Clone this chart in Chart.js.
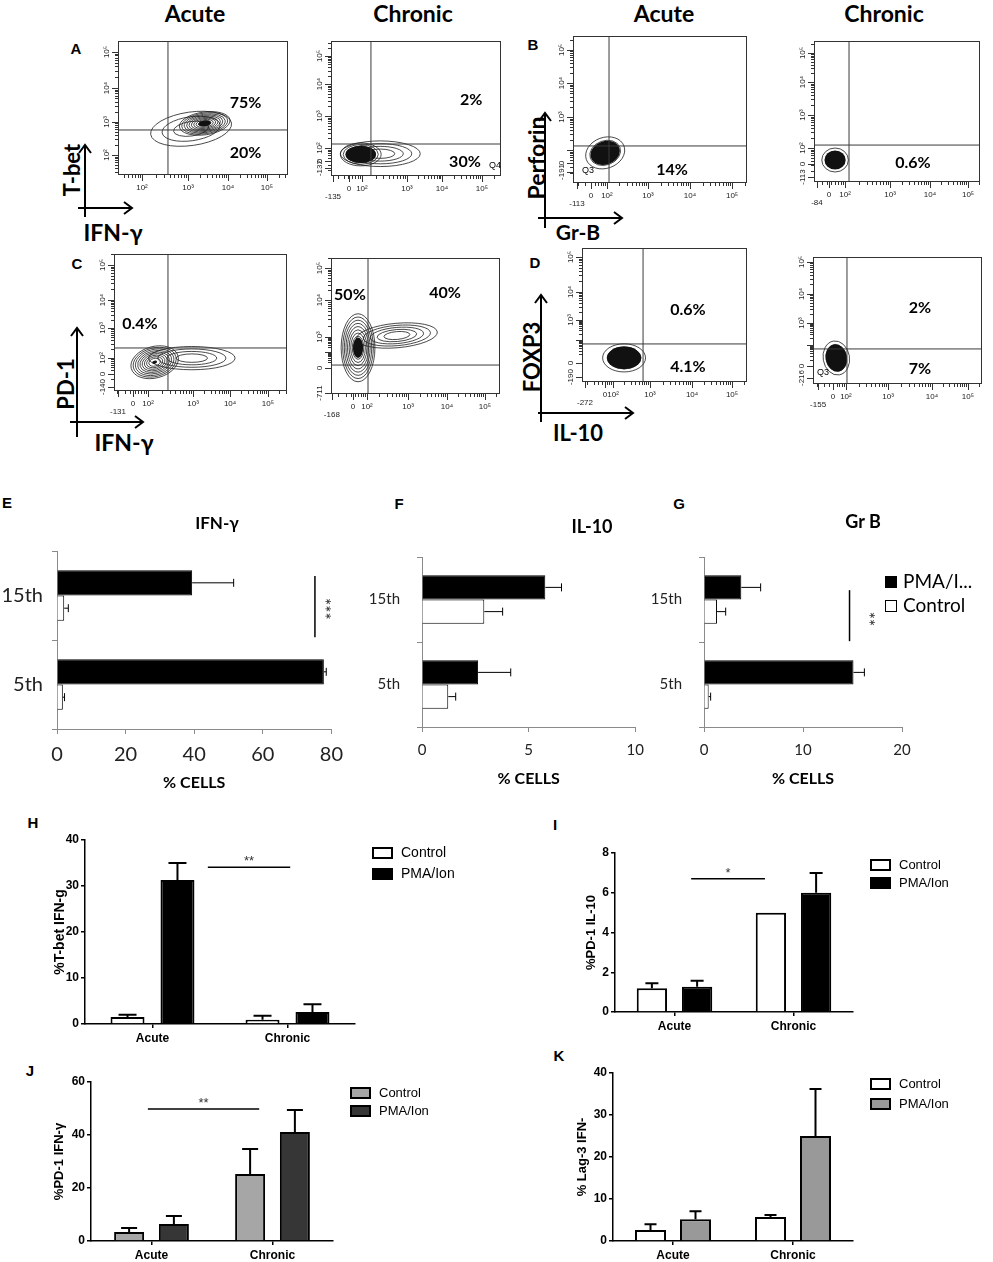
<!DOCTYPE html>
<html>
<head>
<meta charset="utf-8">
<script src="https://cdn.jsdelivr.net/npm/chart.js@4.4.1/dist/chart.umd.min.js"></script>
<style>
  body { margin: 0; width: 993px; height: 1262px; position: relative; overflow: hidden; background: #fff; }
  .t { position: absolute; white-space: nowrap; transform: translate(-50%, -50%); color: #000; line-height: 1; }
  .r { transform: translate(-50%, -50%) rotate(-90deg); }
  .hd { font: bold 23px Lato, sans-serif; }
  .lt { font: bold 15px "Liberation Sans", Arial, sans-serif; }
  .ar { font-family: Lato, sans-serif; font-weight: bold; }
</style>
</head>
<body>
<svg width="993" height="1262" style="position:absolute;left:0;top:0" fill="none" stroke="#000" stroke-width="2">
  <path d="M85 217V145M79 153L85 145L91 153M78 208H132M124 202L132 208L124 214"/>
  <path d="M545 228V113M539 121L545 113L551 121M538 218H622M614 212L622 218L614 224"/>
  <path d="M77 437V328M71 336L77 328L83 336M70 422H143M135 416L143 422L135 428"/>
  <path d="M541 422V295M535 303L541 295L547 303M538 413H633M625 407L633 413L625 419"/>
</svg>
<script>
// ---------- flow panels, values in display channels (0-1000) ----------
const aAcuteXTicks = [141, 412, 647, 876];
const aAcuteXLabels = ['10²', '10³', '10⁴', '10⁵'];
const aAcuteYTicks = [149, 396, 649, 918];
const aAcuteYLabels = ['10²', '10³', '10⁴', '10⁵'];
const aAcuteGate = [294, 336];
const aAcuteContours = [[430, 345, 240, 125, 3, 0, 8], [510, 385, 150, 85, 9, 0.25, 8]];
const aAcutePcts = [['75%', 750, 537], ['20%', 750, 164]];

const aChronicXTicks = [12, 106, 182, 447, 653, 888];
const aChronicXLabels = ['-135', '0', '10²', '10³', '10⁴', '10⁵'];
const aChronicYTicks = [59, 111, 207, 444, 681, 889];
const aChronicYLabels = ['-132', '0', '10²', '10³', '10⁴', '10⁵'];
const aChronicGate = [235, 237];
const aChronicContours = [[290, 165, 235, 95, 4, 0, 0], [175, 160, 120, 85, 6, 0.75, 0]];
const aChronicPcts = [['2%', 824, 563], ['30%', 788, 104], ['Q4', 965, 81]];

const bAcuteXTicks = [23, 103, 195, 431, 672, 914];
const bAcuteXLabels = ['-113', '0', '10²', '10³', '10⁴', '10⁵'];
const bAcuteYTicks = [75, 136, 224, 449, 680, 905];
const bAcuteYLabels = ['-191', '0', '', '10³', '10⁴', '10⁵'];
const bAcuteGate = [207, 252];
const bAcuteContours = [[185, 205, 115, 105, 4, 0.75, 20]];
const bAcutePcts = [['14%', 569, 88], ['Q3', 86, 88]];

const bChronicXTicks = [18, 90, 187, 458, 699, 928];
const bChronicXLabels = ['-84', '0', '10²', '10³', '10⁴', '10⁵'];
const bChronicYTicks = [35, 128, 241, 475, 709, 915];
const bChronicYLabels = ['-113', '0', '10²', '10³', '10⁴', '10⁵'];
const bChronicGate = [211, 262];
const bChronicContours = [[127, 156, 80, 85, 3, 0.8, 0]];
const bChronicPcts = [['0.6%', 596, 135]];

const cAcuteXTicks = [23, 110, 197, 457, 671, 890];
const cAcuteXLabels = ['-131', '0', '10²', '10³', '10⁴', '10⁵'];
const cAcuteYTicks = [29, 124, 241, 460, 664, 920];
const cAcuteYLabels = ['-140', '0', '10²', '10³', '10⁴', '10⁵'];
const cAcuteGate = [312, 314];
const cAcuteContours = [[450, 240, 250, 85, 4, 0, 0], [235, 210, 140, 115, 9, 0.1, 15]];
const cAcutePcts = [['0.4%', 150, 489]];

const cChronicXTicks = [5, 130, 213, 456, 686, 911];
const cChronicXLabels = ['-168', '0', '10²', '10³', '10⁴', '10⁵'];
const cChronicYTicks = [7, 191, 309, 419, 691, 926];
const cChronicYLabels = ['-711', '0', '', '10³', '10⁴', '10⁵'];
const cChronicGate = [219, 213];
const cChronicContours = [[390, 430, 240, 90, 5, 0, 5], [160, 340, 100, 250, 9, 0.3, 0]];
const cChronicPcts = [['50%', 112, 728], ['40%', 675, 743]];

const dAcuteXTicks = [18, 139, 188, 412, 667, 909];
const dAcuteXLabels = ['-272', '0', '10²', '10³', '10⁴', '10⁵'];
const dAcuteYTicks = [37, 142, 313, 463, 672, 933];
const dAcuteYLabels = ['-190', '0', '', '10³', '10⁴', '10⁵'];
const dAcuteGate = [370, 284];
const dAcuteContours = [[255, 180, 130, 105, 4, 0.8, 0]];
const dAcutePcts = [['0.6%', 642, 537], ['4.1%', 642, 112]];

const dChronicXTicks = [30, 118, 195, 444, 704, 917];
const dChronicXLabels = ['-155', '0', '10²', '10³', '10⁴', '10⁵'];
const dChronicYTicks = [47, 142, 310, 480, 709, 961];
const dChronicYLabels = ['-216', '0', '', '10³', '10⁴', '10⁵'];
const dChronicGate = [201, 276];
const dChronicContours = [[138, 205, 78, 135, 4, 0.8, 10]];
const dChronicPcts = [['2%', 633, 598], ['7%', 633, 118], ['Q3', 59, 94]];

// ---------- E-G horizontal bars ----------
const dayLabels = ['15th', '5th'];
const ifnPma = [39.4, 77.8];
const ifnPmaErr = [12.1, 0.7];
const ifnCtl = [2.1, 1.7];
const ifnCtlErr = [1.2, 0.5];
const il10Pma = [5.78, 2.63];
const il10PmaErr = [0.76, 1.53];
const il10Ctl = [2.92, 1.23];
const il10CtlErr = [0.86, 0.35];
const grbPma = [3.77, 15.1];
const grbPmaErr = [1.95, 1.1];
const grbCtl = [1.31, 0.47];
const grbCtlErr = [0.88, 0.2];
const ifnSig = [75.2, -0.22, 0.47, '***', 77.7, 0.15];
const grbSig = [14.7, -0.11, 0.49, '**', 16.5, 0.23];

// ---------- H-K vertical bars ----------
const stageLabels = ['Acute', 'Chronic'];
const tbetCtl = [1.5, 0.9];
const tbetCtlErr = [0.5, 0.9];
const tbetPma = [31.3, 2.6];
const tbetPmaErr = [3.7, 1.7];
const pd1Il10Ctl = [1.2, 5.0];
const pd1Il10CtlErr = [0.25, 0];
const pd1Il10Pma = [1.27, 6.0];
const pd1Il10PmaErr = [0.3, 1.0];
const pd1IfnCtl = [3.4, 25.3];
const pd1IfnCtlErr = [1.5, 9.4];
const pd1IfnPma = [6.4, 41.1];
const pd1IfnPmaErr = [3.0, 8.3];
const lag3Ctl = [2.6, 5.7];
const lag3CtlErr = [1.4, 0.5];
const lag3Pma = [5.2, 25.0];
const lag3PmaErr = [1.9, 11.2];
const tbetSig = [0.41, 1.02, 34.1, '**'];
const pd1Il10Sig = [0.14, 0.76, 6.7, '*'];
const pd1IfnSig = [-0.03, 0.89, 49.8, '**'];

function addCanvas(left, top, w, h) {
    const c = document.createElement('canvas');
    c.width = w;
    c.height = h;
    c.style.cssText = `position:absolute;left:${left}px;top:${top}px;width:${w}px;height:${h}px`;
    document.body.appendChild(c);
    return c;
}

function txt(text, x, y, cls, style) {
    const d = document.createElement('div');
    d.className = 't ' + cls;
    d.textContent = text;
    d.style.left = x + 'px';
    d.style.top = y + 'px';
    if (style) d.style.cssText += style;
    document.body.appendChild(d);
}

// minor log ticks between decade ticks (axis decoration only)
function minorTicks(vals, labels) {
    const dec = vals.filter((v, i) => labels[i] !== '0' && !labels[i].startsWith('-'));
    const out = [];
    for (let i = 0; i <= dec.length; i++) {
        const lo = i === 0 ? dec[0] - (dec[1] - dec[0]) : dec[i - 1];
        const hi = i === dec.length ? dec[i - 1] + (dec[i - 1] - dec[i - 2]) : dec[i];
        for (let m = 2; m <= 9; m++) {
            const p = lo + (hi - lo) * Math.log10(m);
            if (p > 2 && p < 998) out.push(p);
        }
    }
    return out;
}

function makeFlowPlugin(f) {
    return {
        id: 'flow',
        beforeDatasetsDraw(chart) {
            const { ctx, chartArea: a, scales: { x, y } } = chart;
            ctx.save();
            ctx.beginPath();
            ctx.rect(a.left, a.top, a.width, a.height);
            ctx.clip();
            ctx.strokeStyle = '#1c1c1c';
            ctx.lineWidth = 0.8;
            f.contours.forEach(([cx, cy, rx, ry, rings, core, ang]) => {
                const px = x.getPixelForValue(cx), py = y.getPixelForValue(cy);
                const prx = x.getPixelForValue(cx + rx) - px;
                const pry = py - y.getPixelForValue(cy + ry);
                const rot = -ang * Math.PI / 180;
                for (let i = 0; i < rings; i++) {
                    const k = 1 - i * 0.85 / rings;
                    ctx.beginPath();
                    ctx.ellipse(px, py, prx * k, pry * k, rot, 0, Math.PI * 2);
                    ctx.stroke();
                }
                if (core > 0) {
                    ctx.beginPath();
                    ctx.ellipse(px, py, prx * core, pry * core, rot, 0, Math.PI * 2);
                    ctx.fillStyle = '#111';
                    ctx.fill();
                }
            });
            ctx.restore();
        },
        afterDraw(chart) {
            const { ctx, chartArea: a, scales: { x, y } } = chart;
            ctx.save();
            ctx.strokeStyle = '#333';
            ctx.lineWidth = 1;
            ctx.strokeRect(a.left + 0.5, a.top + 0.5, a.width - 1, a.height - 1);
            ctx.beginPath();
            f.xTicks.forEach(v => {
                const p = Math.round(x.getPixelForValue(v)) + 0.5;
                ctx.moveTo(p, a.bottom); ctx.lineTo(p, a.bottom + 6);
            });
            minorTicks(f.xTicks, f.xLabels).forEach(v => {
                const p = Math.round(x.getPixelForValue(v)) + 0.5;
                ctx.moveTo(p, a.bottom); ctx.lineTo(p, a.bottom + 3);
            });
            f.yTicks.forEach(v => {
                const p = Math.round(y.getPixelForValue(v)) + 0.5;
                ctx.moveTo(a.left, p); ctx.lineTo(a.left - 6, p);
            });
            minorTicks(f.yTicks, f.yLabels).forEach(v => {
                const p = Math.round(y.getPixelForValue(v)) + 0.5;
                ctx.moveTo(a.left, p); ctx.lineTo(a.left - 3, p);
            });
            ctx.stroke();

            ctx.fillStyle = '#222';
            ctx.font = '8px "Liberation Sans Narrow", "Liberation Sans", sans-serif';
            ctx.textAlign = 'center';
            ctx.textBaseline = 'middle';
            f.xLabels.forEach((t, i) => {
                if (!t) return;
                const off = t.startsWith('-') ? 21 : 13;
                ctx.fillText(t, x.getPixelForValue(f.xTicks[i]), a.bottom + off);
            });
            f.yLabels.forEach((t, i) => {
                if (!t) return;
                ctx.save();
                ctx.translate(a.left - 11, y.getPixelForValue(f.yTicks[i]));
                ctx.rotate(-Math.PI / 2);
                ctx.fillText(t, 0, 0);
                ctx.restore();
            });

            ctx.fillStyle = '#000';
            f.pcts.forEach(([t, vx, vy]) => {
                ctx.font = t.startsWith('Q') ? '9px "Liberation Sans Narrow", sans-serif' : 'bold 16px Lato, sans-serif';
                ctx.fillText(t, x.getPixelForValue(vx), y.getPixelForValue(vy));
            });
            ctx.restore();
        }
    };
}

function flowChart(box, f) {
    const [L, T, R, B] = box;
    const cv = addCanvas(L - 18, T - 2, R - L + 20, B - T + 28);
    const gateStyle = { showLine: true, borderColor: '#3a3a3a', borderWidth: 1, pointRadius: 0 };
    new Chart(cv, {
        type: 'scatter',
        data: {
            datasets: [
                { ...gateStyle, data: [{ x: f.gate[0], y: 0 }, { x: f.gate[0], y: 1000 }] },
                { ...gateStyle, data: [{ x: 0, y: f.gate[1] }, { x: 1000, y: f.gate[1] }] }
            ]
        },
        options: {
            responsive: false, animation: false, events: [],
            layout: { padding: { top: 2, right: 2, left: 0, bottom: 0 } },
            plugins: { legend: { display: false }, tooltip: { enabled: false } },
            scales: {
                x: { type: 'linear', min: 0, max: 1000, ticks: { display: false }, grid: { display: false },
                     border: { display: false }, afterFit: s => { s.height = 26; } },
                y: { type: 'linear', min: 0, max: 1000, ticks: { display: false }, grid: { display: false },
                     border: { display: false }, afterFit: s => { s.width = 18; } }
            }
        },
        plugins: [makeFlowPlugin(f)]
    });
}

function makeErrorBars(width, cap, horizontal) {
    return {
        id: 'errorBars',
        afterDatasetsDraw(chart) {
            const ctx = chart.ctx;
            const vs = horizontal ? chart.scales.x : chart.scales.y;
            ctx.save();
            ctx.strokeStyle = '#000';
            ctx.lineWidth = width;
            chart.data.datasets.forEach((ds, i) => {
                chart.getDatasetMeta(i).data.forEach((bar, j) => {
                    const err = ds.errors[j];
                    if (!err) return;
                    const end = vs.getPixelForValue(ds.data[j] + err);
                    ctx.beginPath();
                    if (horizontal) {
                        ctx.moveTo(bar.x, bar.y); ctx.lineTo(end, bar.y);
                        ctx.moveTo(end, bar.y - cap / 2); ctx.lineTo(end, bar.y + cap / 2);
                    } else {
                        ctx.moveTo(bar.x, bar.y); ctx.lineTo(bar.x, end);
                        ctx.moveTo(bar.x - cap / 2, end); ctx.lineTo(bar.x + cap / 2, end);
                    }
                    ctx.stroke();
                });
            });
            ctx.restore();
        }
    };
}

function makeVSig(s) {
    return {
        id: 'vsig',
        afterDraw(chart) {
            const { ctx, scales: { x, y } } = chart;
            const [vx, y0, y1, t, tx, ty] = s;
            ctx.save();
            ctx.strokeStyle = '#000';
            ctx.lineWidth = 1.5;
            ctx.beginPath();
            ctx.moveTo(x.getPixelForValue(vx), y.getPixelForValue(y0));
            ctx.lineTo(x.getPixelForValue(vx), y.getPixelForValue(y1));
            ctx.stroke();
            ctx.translate(x.getPixelForValue(tx), y.getPixelForValue(ty));
            ctx.rotate(Math.PI / 2);
            ctx.fillStyle = '#333';
            ctx.font = '17px Lato, sans-serif';
            ctx.textAlign = 'center';
            ctx.textBaseline = 'middle';
            ctx.fillText(t, 0, 0);
            ctx.restore();
        }
    };
}

const excelLegend = {
    id: 'xlegend',
    afterDraw(chart) {
        const { ctx, chartArea: a } = chart;
        ctx.save();
        chart.data.datasets.forEach((ds, i) => {
            const cy = a.top + 25 + i * 24;
            ctx.fillStyle = ds.backgroundColor;
            ctx.fillRect(a.right - 17, cy - 6, 12, 12);
            ctx.strokeStyle = '#000';
            ctx.lineWidth = 1;
            ctx.strokeRect(a.right - 16.5, cy - 5.5, 11, 11);
            ctx.fillStyle = '#000';
            ctx.font = '19px Lato, sans-serif';
            ctx.textAlign = 'left';
            ctx.textBaseline = 'middle';
            ctx.fillText(ds.label, a.right + 1, cy);
        });
        ctx.restore();
    }
};

function excelBars(c) {
    const cv = addCanvas(c.left, c.top, c.width, c.height);
    const plugins = [makeErrorBars(1, 8, true)];
    if (c.sig) plugins.push(makeVSig(c.sig));
    if (c.legend) plugins.push(excelLegend);
    const axisGray = '#8a8a8a';
    new Chart(cv, {
        type: 'bar',
        data: {
            labels: dayLabels,
            datasets: [
                { label: 'PMA/I...', data: c.pma, errors: c.pmaErr, backgroundColor: '#000', borderColor: '#000', borderWidth: 1 },
                { label: 'Control', data: c.ctl, errors: c.ctlErr, backgroundColor: '#fff', borderColor: '#000', borderWidth: 1 }
            ]
        },
        options: {
            indexAxis: 'y', responsive: false, animation: false, events: [],
            layout: { padding: { top: 12, right: c.padRight, left: 0, bottom: 0 } },
            datasets: { bar: { categoryPercentage: 0.57, barPercentage: 1 } },
            plugins: { legend: { display: false }, tooltip: { enabled: false } },
            scales: {
                x: {
                    min: 0, max: c.max,
                    ticks: { stepSize: c.step, font: { family: 'Lato', size: c.tickSize }, color: '#222', padding: 9 },
                    grid: { drawOnChartArea: false, tickLength: 5, color: axisGray },
                    border: { color: axisGray },
                    title: { display: true, text: '% CELLS', font: { family: 'Lato', size: 16, weight: 'bold' }, color: '#000', padding: { top: 0, bottom: 4 } },
                    afterFit: s => { s.height = c.xH; }
                },
                y: {
                    ticks: { font: { family: 'Lato', size: c.tickSize }, color: '#222', padding: c.yPad },
                    grid: { drawOnChartArea: false, tickLength: 5, color: axisGray },
                    border: { color: axisGray },
                    afterFit: s => { s.width = c.yW; }
                }
            }
        },
        plugins
    });
}

function makeBracket(s) {
    return {
        id: 'bracket',
        afterDraw(chart) {
            if (!s) return;
            const { ctx, scales: { x, y } } = chart;
            const [x0, x1, v, t] = s;
            const py = y.getPixelForValue(v);
            ctx.save();
            ctx.strokeStyle = '#000';
            ctx.lineWidth = 1.5;
            ctx.beginPath();
            ctx.moveTo(x.getPixelForValue(x0), py);
            ctx.lineTo(x.getPixelForValue(x1), py);
            ctx.stroke();
            ctx.fillStyle = '#333';
            ctx.font = '13px "Liberation Sans", Arial, sans-serif';
            ctx.textAlign = 'center';
            ctx.textBaseline = 'alphabetic';
            ctx.fillText(t, x.getPixelForValue((x0 + x1) / 2), py - 2);
            ctx.restore();
        }
    };
}

function makePrismLegend(font, first, gap) {
    return {
        id: 'plegend',
        afterDraw(chart) {
            const { ctx, chartArea: a } = chart;
            ctx.save();
            chart.data.datasets.forEach((ds, i) => {
                const cy = a.top + first + i * gap;
                ctx.fillStyle = ds.backgroundColor;
                ctx.fillRect(a.right + 18, cy - 5, 19, 10);
                ctx.strokeStyle = '#000';
                ctx.lineWidth = 2;
                ctx.strokeRect(a.right + 18, cy - 5, 19, 10);
                ctx.fillStyle = '#000';
                ctx.font = font;
                ctx.textAlign = 'left';
                ctx.textBaseline = 'middle';
                ctx.fillText(ds.label, a.right + 46, cy);
            });
            ctx.restore();
        }
    };
}

function prismBars(c) {
    const cv = addCanvas(c.left, c.top, c.width, c.height);
    const bold12 = { family: 'Liberation Sans', size: 12, weight: 'bold' };
    new Chart(cv, {
        type: 'bar',
        data: {
            labels: stageLabels,
            datasets: [
                { label: 'Control', data: c.ctl, errors: c.ctlErr, backgroundColor: c.colors[0], borderColor: '#000', borderWidth: 2 },
                { label: 'PMA/Ion', data: c.pma, errors: c.pmaErr, backgroundColor: c.colors[1], borderColor: '#000', borderWidth: 2 }
            ]
        },
        options: {
            responsive: false, animation: false, events: [],
            layout: { padding: { top: 10, right: c.padRight, left: 0, bottom: 0 } },
            datasets: { bar: { categoryPercentage: c.catPct, barPercentage: c.barPct } },
            plugins: { legend: { display: false }, tooltip: { enabled: false } },
            scales: {
                x: {
                    ticks: { font: bold12, color: '#000', padding: 3 },
                    grid: { offset: false, drawOnChartArea: false, tickLength: 4, color: '#000', lineWidth: 1.5 },
                    border: { color: '#000', width: 1.5 },
                    afterFit: s => { s.height = c.xH; }
                },
                y: {
                    min: 0, max: c.max,
                    ticks: { stepSize: c.step, font: bold12, color: '#000', padding: 2 },
                    grid: { drawOnChartArea: false, tickLength: 4, color: '#000', lineWidth: 1.5 },
                    border: { color: '#000', width: 1.5 },
                    title: { display: true, text: c.yTitle, color: '#000', padding: { top: 0, bottom: 0 },
                             font: { family: 'Liberation Sans', size: c.titleSize, weight: 'bold' } },
                    afterFit: s => { s.width = c.yW; }
                }
            }
        },
        plugins: [makeErrorBars(2, c.cap, false), makeBracket(c.sig), makePrismLegend(c.legendFont, c.legendFirst, c.legendGap)]
    });
}

// ---------- flow panels ----------
flowChart([118, 41, 288, 175], { xTicks: aAcuteXTicks, xLabels: aAcuteXLabels, yTicks: aAcuteYTicks, yLabels: aAcuteYLabels, gate: aAcuteGate, contours: aAcuteContours, pcts: aAcutePcts });
flowChart([331, 41, 501, 176], { xTicks: aChronicXTicks, xLabels: aChronicXLabels, yTicks: aChronicYTicks, yLabels: aChronicYLabels, gate: aChronicGate, contours: aChronicContours, pcts: aChronicPcts });
flowChart([573, 36, 747, 183], { xTicks: bAcuteXTicks, xLabels: bAcuteXLabels, yTicks: bAcuteYTicks, yLabels: bAcuteYLabels, gate: bAcuteGate, contours: bAcuteContours, pcts: bAcutePcts });
flowChart([814, 41, 980, 182], { xTicks: bChronicXTicks, xLabels: bChronicXLabels, yTicks: bChronicYTicks, yLabels: bChronicYLabels, gate: bChronicGate, contours: bChronicContours, pcts: bChronicPcts });
flowChart([114, 254, 287, 391], { xTicks: cAcuteXTicks, xLabels: cAcuteXLabels, yTicks: cAcuteYTicks, yLabels: cAcuteYLabels, gate: cAcuteGate, contours: cAcuteContours, pcts: cAcutePcts });
flowChart([331, 258, 500, 394], { xTicks: cChronicXTicks, xLabels: cChronicXLabels, yTicks: cChronicYTicks, yLabels: cChronicYLabels, gate: cChronicGate, contours: cChronicContours, pcts: cChronicPcts });
flowChart([582, 248, 747, 382], { xTicks: dAcuteXTicks, xLabels: dAcuteXLabels, yTicks: dAcuteYTicks, yLabels: dAcuteYLabels, gate: dAcuteGate, contours: dAcuteContours, pcts: dAcutePcts });
flowChart([813, 257, 982, 384], { xTicks: dChronicXTicks, xLabels: dChronicXLabels, yTicks: dChronicYTicks, yLabels: dChronicYLabels, gate: dChronicGate, contours: dChronicContours, pcts: dChronicPcts });

// ---------- E-G ----------
excelBars({ left: 0, top: 530, width: 352, height: 266, yW: 57, yPad: 9, xH: 67, padRight: 14, tickSize: 20,
            max: 80, step: 20, pma: ifnPma, pmaErr: ifnPmaErr, ctl: ifnCtl, ctlErr: ifnCtlErr, sig: ifnSig });
excelBars({ left: 362, top: 531, width: 291, height: 261, yW: 60, yPad: 17, xH: 65, padRight: 14, tickSize: 15,
            max: 10, step: 5, pma: il10Pma, pmaErr: il10PmaErr, ctl: il10Ctl, ctlErr: il10CtlErr });
excelBars({ left: 640, top: 531, width: 345, height: 261, yW: 64, yPad: 17, xH: 65, padRight: 83, tickSize: 15,
            max: 20, step: 10, pma: grbPma, pmaErr: grbPmaErr, ctl: grbCtl, ctlErr: grbCtlErr, sig: grbSig, legend: true });

// ---------- H-K ----------
prismBars({ left: 52, top: 830, width: 418, height: 224, yW: 33, xH: 30, padRight: 115, max: 40, step: 10,
            catPct: 0.74, barPct: 0.68, cap: 18, colors: ['#fff', '#000'], yTitle: '%T-bet IFN-g', titleSize: 14,
            ctl: tbetCtl, ctlErr: tbetCtlErr, pma: tbetPma, pmaErr: tbetPmaErr, sig: tbetSig,
            legendFont: '14px "Liberation Sans", Arial, sans-serif', legendFirst: 13, legendGap: 21 });
prismBars({ left: 584, top: 843, width: 376, height: 199, yW: 31, xH: 30, padRight: 107, max: 8, step: 2,
            catPct: 0.76, barPct: 0.67, cap: 13, colors: ['#fff', '#000'], yTitle: '%PD-1 IL-10', titleSize: 13,
            ctl: pd1Il10Ctl, ctlErr: pd1Il10CtlErr, pma: pd1Il10Pma, pmaErr: pd1Il10PmaErr, sig: pd1Il10Sig,
            legendFont: '13px "Liberation Sans", Arial, sans-serif', legendFirst: 12, legendGap: 18 });
prismBars({ left: 52, top: 1072, width: 391, height: 190, yW: 39, xH: 21, padRight: 110, max: 60, step: 20,
            catPct: 0.74, barPct: 0.67, cap: 16, colors: ['#a6a6a6', '#363636'], yTitle: '%PD-1 IFN-γ', titleSize: 13,
            ctl: pd1IfnCtl, ctlErr: pd1IfnCtlErr, pma: pd1IfnPma, pmaErr: pd1IfnPmaErr, sig: pd1IfnSig,
            legendFont: '13px "Liberation Sans", Arial, sans-serif', legendFirst: 11, legendGap: 18 });
prismBars({ left: 575, top: 1063, width: 388, height: 199, yW: 38, xH: 21, padRight: 110, max: 40, step: 10,
            catPct: 0.75, barPct: 0.69, cap: 12, colors: ['#fff', '#999'], yTitle: '% Lag-3 IFN-', titleSize: 13,
            ctl: lag3Ctl, ctlErr: lag3CtlErr, pma: lag3Pma, pmaErr: lag3PmaErr, sig: null,
            legendFont: '13px "Liberation Sans", Arial, sans-serif', legendFirst: 11, legendGap: 20 });

// ---------- text ----------
txt('Acute', 195, 13, 'hd');
txt('Chronic', 413, 13, 'hd');
txt('Acute', 664, 13, 'hd');
txt('Chronic', 884, 13, 'hd');

[['A', 76, 48], ['B', 533, 44], ['C', 77, 263], ['D', 535, 262], ['E', 7, 502], ['F', 399, 503],
 ['G', 679, 503], ['H', 33, 822], ['I', 555, 824], ['J', 30, 1070], ['K', 559, 1055]]
    .forEach(([t, x, y]) => txt(t, x, y, 'lt'));

txt('T-bet', 72, 170, 'ar r', 'font-size:22px');
txt('IFN-γ', 113, 232, 'ar', 'font-size:23px');
txt('Perforin', 536, 158, 'ar r', 'font-size:23px');
txt('Gr-B', 578, 231, 'ar', 'font-size:21px');
txt('PD-1', 66, 384, 'ar r', 'font-size:22px');
txt('IFN-γ', 124, 442, 'ar', 'font-size:23px');
txt('FOXP3', 532, 357, 'ar r', 'font-size:22px');
txt('IL-10', 578, 433, 'ar', 'font-size:22px');

txt('IFN-γ', 217, 522, 'ar', 'font-size:17px');
txt('IL-10', 592, 526, 'ar', 'font-size:18px');
txt('Gr B', 863, 521, 'ar', 'font-size:18px');
</script>
</body>
</html>
